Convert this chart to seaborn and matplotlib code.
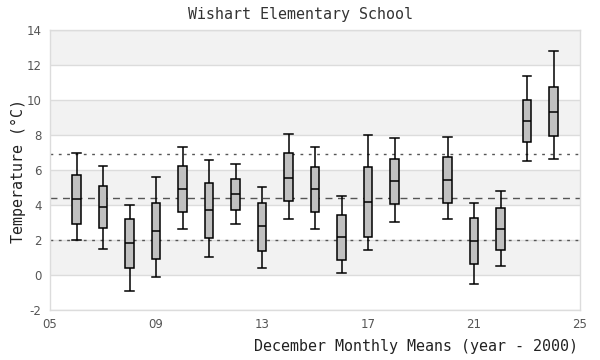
import numpy as np
import pandas as pd
import matplotlib
matplotlib.use("Agg")
import matplotlib.pyplot as plt
import seaborn as sns

# ---- data (year - 2000) ----
years = [6, 7, 8, 9, 10, 11, 12, 13, 14, 15, 16, 17, 18, 20, 21, 22, 23, 24]
whisker_low = [2.0, 1.47, -0.93, -0.13, 2.61, 1.01, 2.90, 0.38, 3.18, 2.61, 0.10, 1.41, 3.01, 3.18, -0.53, 0.50, 6.50, 6.61]
q1 = [2.90, 2.67, 0.38, 0.90, 3.58, 2.10, 3.70, 1.35, 4.21, 3.58, 0.84, 2.15, 4.04, 4.10, 0.61, 1.41, 7.58, 7.92]
median = [4.33, 3.87, 1.81, 2.50, 4.90, 3.70, 4.61, 2.78, 5.56, 4.90, 2.15, 4.15, 5.35, 5.43, 1.93, 2.61, 8.78, 9.30]
q3 = [5.69, 5.07, 3.18, 4.10, 6.21, 5.28, 5.50, 4.13, 6.99, 6.15, 3.41, 6.17, 6.61, 6.73, 3.24, 3.81, 9.98, 10.72]
whisker_high = [6.99, 6.23, 3.98, 5.58, 7.30, 6.59, 6.36, 5.01, 8.08, 7.30, 4.50, 7.98, 7.81, 7.87, 4.10, 4.78, 11.39, 12.78]

ref_mean = 4.40
ref_upper = 6.90
ref_lower = 1.98

x_ticks = [5, 9, 13, 17, 21, 25]
x_tick_labels = ["05", "09", "13", "17", "21", "25"]
y_ticks = [-2, 0, 2, 4, 6, 8, 10, 12, 14]

rows = []
for i, yr in enumerate(years):
    for v in (whisker_low[i], q1[i], median[i], q3[i], whisker_high[i]):
        rows.append({"year": yr, "temp": v})
df = pd.DataFrame(rows)

plt.rcParams["axes.unicode_minus"] = False
mono = ["DejaVu Sans Mono"]
box_w = 0.33

fig = plt.figure(figsize=(6, 3.6), dpi=100)
ax = fig.add_axes([50 / 600, 50 / 360, 530 / 600, 280 / 360])

# alternating background bands
for k, lo in enumerate(range(-2, 14, 2)):
    if k % 2 == 1:
        ax.axhspan(lo, lo + 2, color="#f2f2f2", zorder=0, lw=0)
for yt in y_ticks:
    ax.axhline(yt, color="#dcdcdc", lw=1, zorder=0.5)

ax.axhline(ref_mean, color="#555555", lw=1, ls=(0, (5, 4)), zorder=1)
ax.axhline(ref_upper, color="#555555", lw=1, ls=(0, (2, 4)), zorder=1)
ax.axhline(ref_lower, color="#555555", lw=1, ls=(0, (2, 4)), zorder=1)

n_before = len(ax.lines)
sns.boxplot(data=df, x="year", y="temp", native_scale=True, width=box_w,
            whis=(0, 100), color="#c0c0c0", saturation=1, linecolor="black",
            linewidth=1.1, showfliers=False, ax=ax, zorder=3)

# widen caps to the box width
for ln in ax.lines[n_before:]:
    xd = np.asarray(ln.get_xdata(), dtype=float)
    yd = np.asarray(ln.get_ydata(), dtype=float)
    if len(xd) == 2 and yd[0] == yd[1] and (xd[1] - xd[0]) < box_w * 0.9:
        c = xd.mean()
        ln.set_xdata([c - box_w / 2, c + box_w / 2])

ax.set_xlim(5, 25)
ax.set_ylim(-2, 14)
ax.set_xticks(x_ticks)
ax.set_xticklabels(x_tick_labels)
ax.set_yticks(y_ticks)
ax.tick_params(length=0, labelsize=8.5, labelcolor="#555555", pad=6)
for lab in ax.get_xticklabels() + ax.get_yticklabels():
    lab.set_family("DejaVu Sans")
for sp in ax.spines.values():
    sp.set_color("#dcdcdc")
    sp.set_linewidth(1)

ax.set_xlabel("")
ax.set_ylabel("")
fig.text(300 / 600, 1 - 14 / 360, "Wishart Elementary School", ha="center", va="center",
         family=mono, fontsize=10.8, color="#333333")
fig.text(578 / 600, 1 - 347 / 360, "December Monthly Means (year - 2000)", ha="right",
         va="center", family=mono, fontsize=10.8, color="#222222")
fig.text(18 / 600, 1 - 171 / 360, "Temperature (°C)", ha="center", va="center",
         rotation=90, family=mono, fontsize=10.8, color="#222222")

fig.savefig("out.png", dpi=100)
